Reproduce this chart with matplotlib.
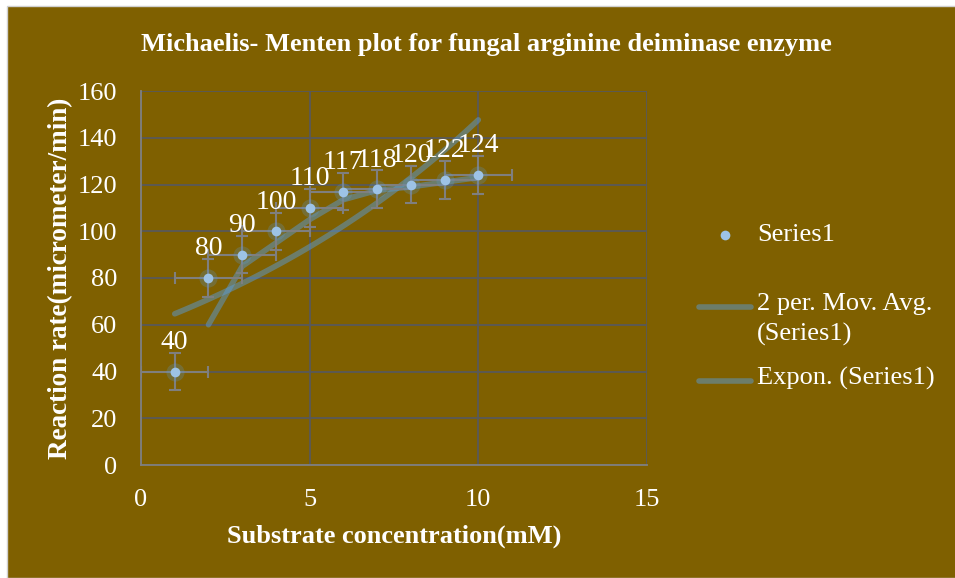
import matplotlib
matplotlib.use('Agg')
import matplotlib.pyplot as plt
from matplotlib.patches import Rectangle
from matplotlib.lines import Line2D
import numpy as np

# data
conc = [1, 2, 3, 4, 5, 6, 7, 8, 9, 10]
rate = [40, 80, 90, 100, 110, 117, 118, 120, 122, 124]
x_err = 1
y_err = 8

title = 'Michaelis- Menten plot for fungal arginine deiminase enzyme'
x_label = 'Substrate concentration(mM)'
y_label = 'Reaction rate(micrometer/min)'
legend_labels = ['Series1', '2 per. Mov. Avg.\n(Series1)', 'Expon. (Series1)']

bg = '#7F6000'
grid_col = '#595959'
pt_col = '#9DC3E6'
line_col = '#5B9BD5'

plt.rcParams['font.family'] = ['Liberation Serif', 'DejaVu Serif']

W, H = 955, 578
fig = plt.figure(figsize=(W / 100, H / 100), dpi=100)
fig.patch.set_facecolor('white')
fig.patches.append(Rectangle((7 / W, 0), 1, 1 - 6 / H, transform=fig.transFigure,
                             facecolor=bg, edgecolor='#D0D0D0', lw=1, zorder=-1))

ax = fig.add_axes([141 / W, 1 - 465 / H, (647 - 141) / W, (465 - 91) / H])
ax.set_facecolor(bg)
ax.set_xlim(0, 15)
ax.set_ylim(0, 160)
ax.set_xticks([0, 5, 10, 15])
ax.set_yticks(range(0, 161, 20))
ax.grid(True, color=grid_col, lw=1.3)
ax.set_axisbelow(True)
for s in ['top', 'right']:
    ax.spines[s].set_visible(False)
for s in ['left', 'bottom']:
    ax.spines[s].set_color('#808080')
    ax.spines[s].set_linewidth(1.3)
ax.tick_params(length=0, labelsize=19, labelcolor='white')
ax.tick_params(axis='y', pad=17)
ax.tick_params(axis='x', pad=17)

# trendlines
x = np.array(conc, dtype=float)
y = np.array(rate, dtype=float)
mov = (y[1:] + y[:-1]) / 2
ax.plot(x[1:], mov, color=line_col, alpha=0.5, lw=4, solid_capstyle='round', zorder=3)
b, a = np.polyfit(x, np.log(y), 1)
xs = np.linspace(x.min(), x.max(), 100)
ax.plot(xs, np.exp(a + b * xs), color=line_col, alpha=0.5, lw=4, solid_capstyle='round', zorder=3)

# points with error bars
ax.errorbar(conc, rate, xerr=x_err, yerr=y_err, fmt='none', ecolor='#7F7F7F',
            elinewidth=1.5, capsize=4, capthick=1.5, zorder=4)
ax.plot(conc, rate, 'o', ms=13, color=line_col, alpha=0.25, mec='none', zorder=5)
ax.plot(conc, rate, 'o', ms=7, color=pt_col, mec='none', zorder=6)

for cx, cy in zip(conc, rate):
    ax.annotate(str(cy), (cx, cy), xytext=(0, 12), textcoords='offset points',
                ha='center', va='bottom', color='white', fontsize=20, zorder=7)

ax.set_xlabel(x_label, fontsize=19, fontweight='bold', color='white', labelpad=10)
ax.set_ylabel(y_label, fontsize=19.5, fontweight='bold', color='white')
ax.yaxis.set_label_coords(-(141 - 73) / (647 - 141), 0.5)
fig.text(486 / W, 1 - 44 / H, title, ha='center', va='center', fontsize=19,
         fontweight='bold', color='white')

# legend drawn by hand, positions in pixels
def fx(px):
    return px / W

def fy(py):
    return 1 - py / H

fig.add_artist(Line2D([fx(725)], [fy(235)], marker='o', ms=7, color=pt_col, mec='none'))
fig.text(fx(757), fy(235), legend_labels[0], va='center', ha='left', fontsize=19, color='white')
for py, lab in [(307, legend_labels[1]), (381, legend_labels[2])]:
    fig.add_artist(Line2D([fx(699), fx(751)], [fy(py), fy(py)], color=line_col, alpha=0.5,
                          lw=4, solid_capstyle='round'))
    fig.text(fx(757), fy(py - 14), lab, va='top', ha='left', fontsize=19, color='white',
             linespacing=1.45)

fig.savefig('out.png', dpi=100, facecolor=fig.get_facecolor())
